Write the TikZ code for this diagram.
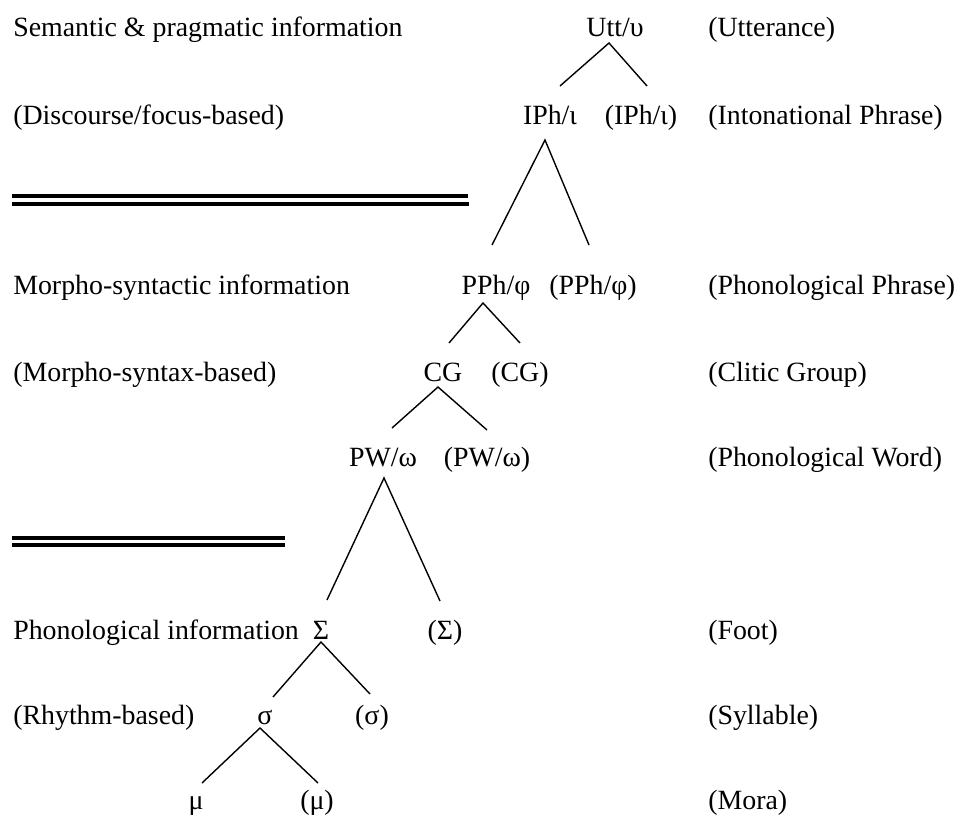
\documentclass[tikz,border=0pt]{standalone}
\usepackage{fontspec}
\setmainfont{Liberation Serif}
\usetikzlibrary{calc}
\begin{document}
\begin{tikzpicture}[x=0.75pt,y=-0.75pt,
  lbl/.style={inner sep=0pt,anchor=base west,font=\fontsize{20.9}{25}\selectfont},
  tnode/.style={inner sep=0pt,anchor=base,font=\fontsize{20.9}{25}\selectfont},
  branch/.style={line width=1.05pt},
  divider/.style={line width=2.3pt}]
\useasboundingbox (0,0) rectangle (957,816);

% left-hand information labels
\node[lbl] (l1) at (13,37)  {Semantic \& pragmatic information};
\node[lbl] (l2) at (13,125) {(Discourse/focus-based)};
\node[lbl] (l3) at (13,295) {Morpho-syntactic information};
\node[lbl] (l4) at (13,382) {(Morpho-syntax-based)};
\node[lbl] (l6) at (13,639) {Phonological information};
\node[lbl] (l7) at (13,724) {(Rhythm-based)};

% right-hand constituent names
\node[lbl] (r1) at (708,37)  {(Utterance)};
\node[lbl] (r2) at (708,125) {(Intonational Phrase)};
\node[lbl] (r3) at (708,295) {(Phonological Phrase)};
\node[lbl] (r4) at (708,382) {(Clitic Group)};
\node[lbl] (r5) at (708,467) {(Phonological Word)};
\node[lbl] (r6) at (708,639) {(Foot)};
\node[lbl] (r7) at (708,724) {(Syllable)};
\node[lbl] (r8) at (708,809) {(Mora)};

% prosodic hierarchy
\node[tnode] (utt)  at (615,37)  {Utt/υ};
\node[tnode] (iph)  at (550,125) {IPh/ι};
\node[tnode] (iph2) at (641,125) {(IPh/ι)};
\node[tnode] (pph)  at (496,295) {PPh/φ};
\node[tnode] (pph2) at (593,295) {(PPh/φ)};
\node[tnode] (cg)   at (443,382) {CG};
\node[tnode] (cg2)  at (520,382) {(CG)};
\node[tnode] (pw)   at (383,467) {PW/ω};
\node[tnode] (pw2)  at (487,467) {(PW/ω)};
\node[tnode] (ft)   at (321,639) {Σ};
\node[tnode] (ft2)  at (445,639) {(Σ)};
\node[tnode] (syl)  at (265,724) {σ};
\node[tnode] (syl2) at (372,724) {(σ)};
\node[tnode] (mu)   at (196,809) {μ};
\node[tnode] (mu2)  at (317,809) {(μ)};

% branches
\draw[branch] ($(iph.base)+(10,-39)$) -- ($(utt.base)+(-6,6)$) -- ($(iph2.base)+(6,-39)$);
\draw[branch] ($(pph.base)+(-4,-50)$) -- ($(iph.base)+(-5,15)$) -- ($(pph2.base)+(-4,-50)$);
\draw[branch] ($(cg.base)+(6,-39)$) -- ($(pph.base)+(-13,8)$) -- ($(cg2.base)+(0,-39)$);
\draw[branch] ($(pw.base)+(9,-39)$) -- ($(cg.base)+(-5,5)$) -- ($(pw2.base)+(0,-37)$);
\draw[branch] ($(ft.base)+(6,-39)$) -- ($(pw.base)+(1,11)$) -- ($(ft2.base)+(-5,-38)$);
\draw[branch] ($(syl.base)+(8,-27)$) -- ($(ft.base)+(0,3)$) -- ($(syl2.base)+(-2,-30)$);
\draw[branch] ($(mu.base)+(6,-26)$) -- ($(syl.base)+(-5,4)$) -- ($(mu2.base)+(1,-26)$);

% double dividers between information domains
\draw[divider] (12,196) -- (468,196);
\draw[divider] (12,204) -- (469,204);
\draw[divider] (12,538) -- (285,538);
\draw[divider] (12,545) -- (285,545);
\end{tikzpicture}
\end{document}
